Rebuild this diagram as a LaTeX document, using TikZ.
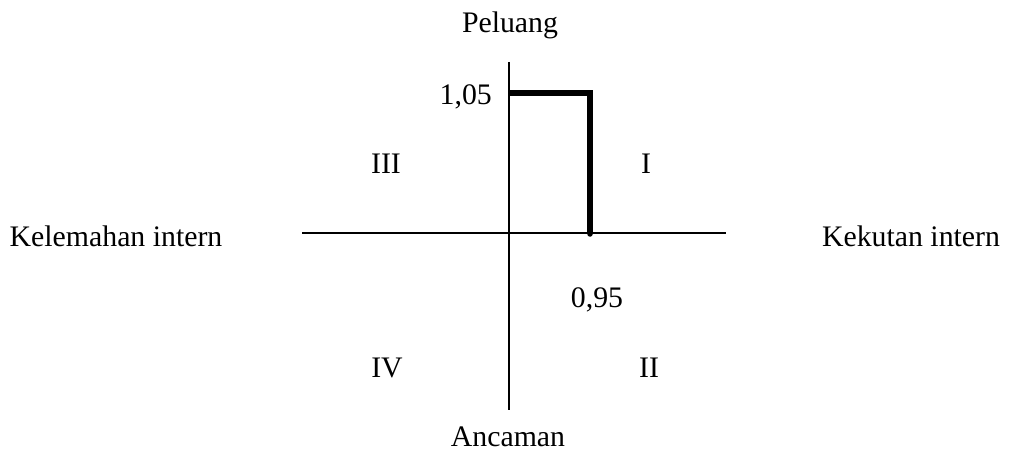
\documentclass[tikz,border=0pt]{standalone}
\usepackage{fontspec}
\setmainfont{Liberation Serif}
\begin{document}
\begin{tikzpicture}[x=1pt,y=-1pt,
  lbl/.style={inner sep=0pt,anchor=base,font=\fontsize{29.8}{34}\selectfont},
  axis/.style={line width=2.2pt},
  path/.style={line width=5.5pt,line join=miter}]
\useasboundingbox (0,0) rectangle (1009,452);
\coordinate (vt) at (509,62);
\coordinate (vb) at (509,410);
\coordinate (hl) at (302,233);
\coordinate (hr) at (726,233);
\coordinate (p1) at (509,93);
\coordinate (p2) at (590,93);
\coordinate (p3) at (590,234);
\draw[axis] (vt) -- (vb);
\draw[axis] (hl) -- (hr);
\draw[path] (p1) -- (p2) -- (p3);
\fill (p3) circle (2.75pt);
\node[lbl] (peluang) at (510,33) {Peluang};
\node[lbl,anchor=base east] (v105) at (492,104) {1,05};
\node[lbl] (q3) at (386,173) {III};
\node[lbl] (q1) at (646,173) {I};
\node[lbl] (kel) at (116,246) {Kelemahan intern};
\node[lbl] (kek) at (911,246) {Kekutan intern};
\node[lbl] (v095) at (597,307) {0,95};
\node[lbl] (q4) at (387,377) {IV};
\node[lbl] (q2) at (649,377) {II};
\node[lbl] (anc) at (508,446) {Ancaman};
\end{tikzpicture}
\end{document}
